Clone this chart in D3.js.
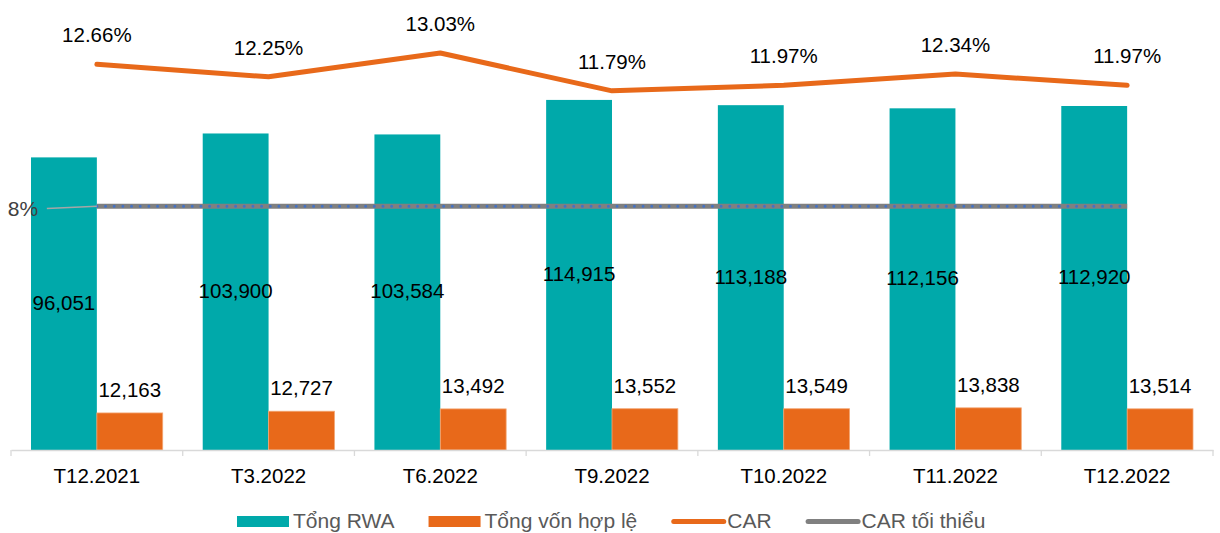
<!DOCTYPE html>
<html>
<head>
<meta charset="utf-8">
<script src="https://cdn.jsdelivr.net/npm/d3@7"></script>
<style>
  html, body { margin: 0; padding: 0; background: #fff; }
  svg text { font-family: "Liberation Sans", Arial, sans-serif; }
</style>
</head>
<body>
<div id="chart"></div>
<script>
'use strict';

// data
const categories = ['T12.2021', 'T3.2022', 'T6.2022', 'T9.2022', 'T10.2022', 'T11.2022', 'T12.2022'];
const rwa = [96051, 103900, 103584, 114915, 113188, 112156, 112920];
const vonHopLe = [12163, 12727, 13492, 13552, 13549, 13838, 13514];
const car = [12.66, 12.25, 13.03, 11.79, 11.97, 12.34, 11.97];
const carMin = [8, 8, 8, 8, 8, 8, 8];
const legendLabels = ['Tổng RWA', 'Tổng vốn hợp lệ', 'CAR', 'CAR tối thiểu'];

const width = 1220, height = 533;
const teal = '#00A9AA', orange = '#E8691A', grey = '#808080', blue = '#4472C4';

const svg = d3.select('#chart').append('svg')
  .attr('width', width).attr('height', height);

const x = d3.scaleBand().domain(categories).range([11, 1213]).padding(0);
const x1 = d3.scaleBand().domain(['rwa', 'von']).range([20, x.bandwidth() - 20]).padding(0);
const yL = d3.scaleLinear().domain([0, 140000]).range([450, 23.5]);
const yR = d3.scaleLinear().domain([0, 14]).range([450, 23.5]);
const fmt = d3.format(',');

// bars
const groups = svg.append('g').selectAll('g')
  .data(categories).join('g')
  .attr('transform', d => 'translate(' + x(d) + ',0)');

groups.append('rect')
  .attr('x', x1('rwa'))
  .attr('y', (d, i) => yL(rwa[i]))
  .attr('width', x1.bandwidth())
  .attr('height', (d, i) => yL(0) - yL(rwa[i]))
  .attr('fill', teal);

groups.append('rect')
  .attr('x', x1('von'))
  .attr('y', (d, i) => yL(vonHopLe[i]))
  .attr('width', x1.bandwidth())
  .attr('height', (d, i) => yL(0) - yL(vonHopLe[i]))
  .attr('fill', orange)
  .attr('stroke', '#F3A673').attr('stroke-width', 0.8);

// x axis
const axis = svg.append('g')
  .attr('transform', 'translate(0,450)')
  .call(d3.axisBottom(x).tickSize(0).tickSizeOuter(0).tickPadding(18.4));
axis.select('.domain').attr('stroke', '#D9D9D9').attr('stroke-width', 1.3);
axis.selectAll('text').attr('font-size', '20.5px').attr('fill', '#000');

svg.append('g').selectAll('line')
  .data(d3.range(categories.length + 1)).join('line')
  .attr('x1', i => x.range()[0] + i * x.step())
  .attr('x2', i => x.range()[0] + i * x.step())
  .attr('y1', 450).attr('y2', 456)
  .attr('stroke', '#D9D9D9').attr('stroke-width', 1.3);

// bar labels
groups.append('text')
  .attr('x', x1('rwa') + x1.bandwidth() / 2)
  .attr('y', (d, i) => (yL(rwa[i]) + yL(0)) / 2 + 6)
  .attr('text-anchor', 'middle')
  .attr('font-size', '20.5px').attr('fill', '#000')
  .text((d, i) => fmt(rwa[i]));

groups.append('text')
  .attr('x', x1('von') + x1.bandwidth() / 2)
  .attr('y', (d, i) => yL(vonHopLe[i]) - 16)
  .attr('text-anchor', 'middle')
  .attr('font-size', '20.5px').attr('fill', '#000')
  .text((d, i) => fmt(vonHopLe[i]));

// lines
const cx = d => x(d) + x.bandwidth() / 2;
const lineMin = d3.line().x((d, i) => cx(categories[i])).y(d => yR(d));

svg.append('path')
  .attr('d', lineMin(carMin))
  .attr('fill', 'none').attr('stroke', grey).attr('stroke-width', 5);
svg.append('path')
  .attr('d', lineMin(carMin))
  .attr('fill', 'none').attr('stroke', blue).attr('stroke-width', 3)
  .attr('stroke-linecap', 'round').attr('stroke-dasharray', '0 8.67');

svg.append('path')
  .attr('d', lineMin(car))
  .attr('fill', 'none').attr('stroke', orange).attr('stroke-width', 5)
  .attr('stroke-linecap', 'round').attr('stroke-linejoin', 'round');

svg.append('g').selectAll('text')
  .data(car).join('text')
  .attr('x', (d, i) => cx(categories[i]))
  .attr('y', d => yR(d) - 22)
  .attr('text-anchor', 'middle')
  .attr('font-size', '20.5px').attr('fill', '#000')
  .text(d => d.toFixed(2) + '%');

// 8% label with leader line
const p0x = cx(categories[0]), p0y = yR(carMin[0]);
svg.append('line')
  .attr('x1', p0x - 50).attr('y1', p0y + 2.3)
  .attr('x2', p0x).attr('y2', p0y)
  .attr('stroke', '#A6A6A6').attr('stroke-width', 1.5);
svg.append('text')
  .attr('x', p0x - 58.7).attr('y', p0y + 10)
  .attr('text-anchor', 'end')
  .attr('font-size', '21px').attr('fill', '#404040')
  .text(carMin[0] + '%');

// legend
const legend = svg.append('g');
let lx = 237;
legendLabels.forEach((label, i) => {
  if (i < 2) {
    legend.append('rect')
      .attr('x', lx).attr('y', 516).attr('width', 52).attr('height', 11)
      .attr('fill', i === 0 ? teal : orange);
  } else {
    legend.append('line')
      .attr('x1', lx + 2.5).attr('x2', lx + 52.5).attr('y1', 521.5).attr('y2', 521.5)
      .attr('stroke', i === 2 ? orange : grey).attr('stroke-width', 5)
      .attr('stroke-linecap', 'round');
  }
  const t = legend.append('text')
    .attr('x', lx + 56).attr('y', 528)
    .attr('font-size', '21px').attr('fill', '#595959')
    .text(label);
  lx += 56 + t.node().getComputedTextLength() + 34;
});
</script>
</body>
</html>
